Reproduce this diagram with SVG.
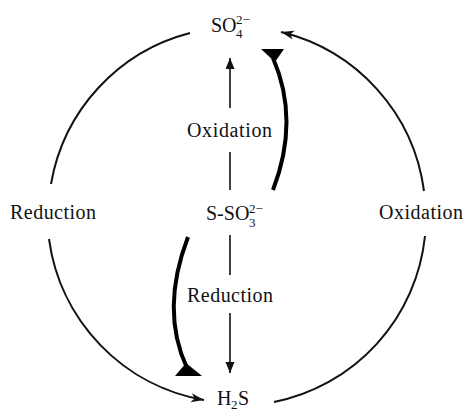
<svg xmlns="http://www.w3.org/2000/svg" width="464" height="414" viewBox="0 0 464 414">
  <style>
    .t { font-family: "Liberation Serif", "Times New Roman", serif; font-size: 20px; fill: #111; }
    .s { font-size: 13px; }
    .arc { fill: none; stroke: #111; stroke-width: 2; }
    .ln { fill: none; stroke: #111; stroke-width: 1.6; }
    .thick { fill: none; stroke: #000; stroke-width: 4; stroke-linecap: butt; }
    .head { fill: #000; }
  </style>
  <defs>
    <marker id="stealth" markerUnits="userSpaceOnUse" markerWidth="14" markerHeight="10" refX="13" refY="4.5" orient="auto">
      <path d="M0,0 L13,4.5 L0,9 L3.5,4.5 Z" fill="#111"/>
    </marker>
    <marker id="tri" markerUnits="userSpaceOnUse" markerWidth="12" markerHeight="10" refX="11" refY="4.5" orient="auto">
      <path d="M0,0 L11,4.5 L0,9 Z" fill="#111"/>
    </marker>
  </defs>

  <g id="connectors">
    <!-- outer cycle -->
    <path class="arc" d="M190,33 A189,189 0 0 0 51,184"/>
    <path class="arc" d="M424,191 A189,189 0 0 0 281,32" marker-end="url(#stealth)"/>
    <path class="arc" d="M49,239 A189,189 0 0 0 204,400" marker-end="url(#stealth)"/>
    <path class="arc" d="M274,402 A189,189 0 0 0 425,236"/>
    <!-- central vertical arrows -->
    <line class="ln" x1="230" y1="108" x2="230" y2="58" marker-end="url(#tri)"/>
    <line class="ln" x1="230" y1="152" x2="230" y2="190"/>
    <line class="ln" x1="230" y1="235" x2="230" y2="275"/>
    <line class="ln" x1="230" y1="313" x2="230" y2="373" marker-end="url(#tri)"/>
    <!-- thick curved arrows -->
    <path class="thick" d="M273,190 Q300,120 273,58"/>
    <polygon class="head" points="261,49 284,49 275,62"/>
    <path class="thick" d="M188,237 Q160,310 187,368"/>
    <polygon class="head" points="175,376 202,376 186,363"/>
  </g>

  <g id="so4">
    <text class="t" x="211" y="32">SO</text>
    <text class="t s" x="236" y="38">4</text>
    <text class="t s" x="236" y="24">2−</text>
  </g>
  <g id="sso3">
    <text class="t" x="206" y="220">S-SO</text>
    <text class="t s" x="249" y="227">3</text>
    <text class="t s" x="249" y="213">2−</text>
  </g>
  <g id="h2s">
    <text class="t" x="217" y="405">H</text>
    <text class="t s" x="231" y="409">2</text>
    <text class="t" x="238" y="405">S</text>
  </g>
  <g id="labels">
    <text class="t" x="10" y="219" textLength="86">Reduction</text>
    <text class="t" x="379" y="219" textLength="84">Oxidation</text>
    <text class="t" x="187" y="137" textLength="85">Oxidation</text>
    <text class="t" x="187" y="302" textLength="86">Reduction</text>
  </g>
</svg>
